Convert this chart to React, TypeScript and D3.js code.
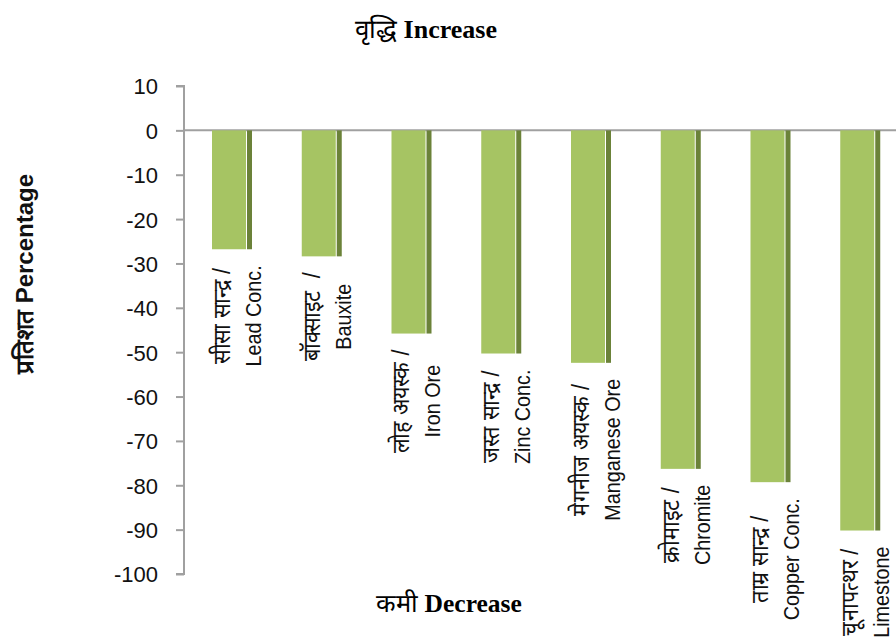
import React, { useEffect, useRef } from "react";
import * as d3 from "d3";

const categoriesHi = [
  "सीसा सान्द्र /",
  "बॉक्साइट  /",
  "लोह अयस्क /",
  "जस्त सान्द्र /",
  "मेगनीज अयस्क /",
  "क्रोमाइट /",
  "ताम्र सान्द्र /",
  "चूनापत्थर /",
];
const categoriesEn = [
  "Lead Conc.",
  "Bauxite",
  "Iron Ore",
  "Zinc Conc.",
  "Manganese Ore",
  "Chromite",
  "Copper Conc.",
  "Limestone",
];
const values = [-26.8, -28.4, -45.8, -50.3, -52.4, -76.3, -79.3, -90.2];
const yTicks = [10, 0, -10, -20, -30, -40, -50, -60, -70, -80, -90, -100];

const W = 896;
const H = 639;
const GREEN = "#A6C463";
const DARK = "#6B8239";
const AXIS = "#A0A0A0";
const SANS = "'Liberation Sans', Arial, sans-serif";
const SERIF = "'Liberation Serif', 'Times New Roman', serif";

export default function App() {
  const ref = useRef<SVGSVGElement | null>(null);

  useEffect(() => {
    const svg = d3.select(ref.current);
    svg.selectAll("*").remove();

    const y = d3.scaleLinear().domain([-100, 10]).range([574, 86]);
    const x = d3
      .scaleBand<string>()
      .domain(categoriesEn)
      .range([184, 902])
      .paddingInner(0)
      .paddingOuter(0);

    // Top / bottom titles
    const top = svg
      .append("text")
      .attr("x", 426)
      .attr("y", 38)
      .attr("text-anchor", "middle")
      .attr("font-family", SERIF)
      .attr("font-size", 26)
      .attr("fill", "#000");
    top.append("tspan").text("वृद्धि ");
    top.append("tspan").attr("font-weight", "bold").text("Increase");

    const bottom = svg
      .append("text")
      .attr("x", 449)
      .attr("y", 612)
      .attr("text-anchor", "middle")
      .attr("font-family", SERIF)
      .attr("font-size", 25.5)
      .attr("fill", "#000");
    bottom.append("tspan").text("कमी ");
    bottom.append("tspan").attr("font-weight", "bold").text("Decrease");

    // Y title
    svg
      .append("text")
      .attr("transform", "translate(33,274) rotate(-90)")
      .attr("text-anchor", "middle")
      .attr("font-family", SANS)
      .attr("font-weight", "bold")
      .attr("font-size", 24)
      .attr("fill", "#111")
      .text("प्रतिशत Percentage");

    // Zero line
    svg
      .append("line")
      .attr("x1", 184)
      .attr("x2", W)
      .attr("y1", y(0))
      .attr("y2", y(0))
      .attr("stroke", AXIS)
      .attr("stroke-width", 2);

    // Y axis
    const axis = d3
      .axisLeft(y)
      .tickValues(yTicks)
      .tickSize(8)
      .tickPadding(18)
      .tickFormat((d) => String(d));
    const gAxis = svg.append("g").attr("transform", "translate(184,0)").call(axis);
    gAxis
      .select(".domain")
      .attr("stroke", AXIS)
      .attr("stroke-width", 2)
      .attr("d", `M-8,${y(10)}H0V${y(-100)}H-8`);
    gAxis.selectAll(".tick line").attr("stroke", AXIS).attr("stroke-width", 2);
    gAxis
      .selectAll(".tick text")
      .attr("font-family", SANS)
      .attr("font-size", 22)
      .attr("fill", "#111")
      .attr("dy", "0.36em");

    // Bars
    const bars = svg.append("g");
    categoriesEn.forEach((c, i) => {
      const x0 = x(c) as number;
      const v = values[i];
      bars
        .append("rect")
        .attr("x", x0 + 28)
        .attr("y", y(0))
        .attr("width", 34)
        .attr("height", y(v) - y(0))
        .attr("fill", GREEN);
      bars
        .append("rect")
        .attr("x", x0 + 63)
        .attr("y", y(0))
        .attr("width", 5)
        .attr("height", y(v) - y(0))
        .attr("fill", DARK);
    });

    // Category labels (rotated, two lines, centered block)
    const labels = svg.append("g");
    categoriesEn.forEach((c, i) => {
      const x0 = x(c) as number;
      const v = values[i];
      const g = labels
        .append("g")
        .attr("transform", `translate(${x0},${y(v) + 16}) rotate(-90) scale(0.9,1)`);
      const tHi = g
        .append("text")
        .attr("y", 46)
        .attr("text-anchor", "middle")
        .attr("font-family", SANS)
        .attr("font-size", 24)
        .attr("fill", "#111")
        .attr("xml:space", "preserve")
        .style("white-space", "pre")
        .text(categoriesHi[i]);
      const tEn = g
        .append("text")
        .attr("y", 77)
        .attr("text-anchor", "middle")
        .attr("font-family", SANS)
        .attr("font-size", 22)
        .attr("fill", "#111")
        .text(categoriesEn[i]);
      const lHi = (tHi.node() as SVGTextElement).getComputedTextLength();
      const lEn = (tEn.node() as SVGTextElement).getComputedTextLength();
      const L = Math.max(lHi, lEn);
      tHi.attr("x", -L / 2);
      tEn.attr("x", -L / 2);
    });
  }, []);

  return (
    <svg
      ref={ref}
      width={W}
      height={H}
      style={{ position: "absolute", left: 0, top: 0, background: "#fff" }}
    />
  );
}
